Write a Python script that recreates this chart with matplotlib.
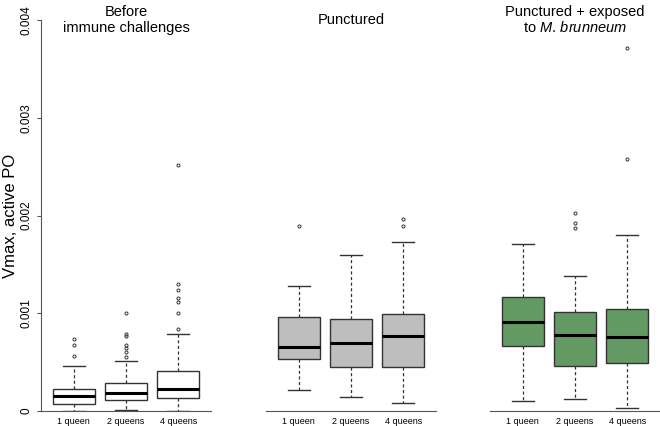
import matplotlib
matplotlib.use("Agg")
import matplotlib.pyplot as plt

plt.rcParams['font.family'] = ['Liberation Sans', 'DejaVu Sans']
plt.rcParams['mathtext.fontset'] = 'custom'
plt.rcParams['mathtext.rm'] = 'Liberation Sans'
plt.rcParams['mathtext.it'] = 'Liberation Sans:italic'

# Groups and panels
groups = ['1 queen', '2 queens', '4 queens']
titles = ['Before\nimmune challenges', 'Punctured',
          'Punctured + exposed\nto $\\mathit{M.\\,brunneum}$']
fills = ['white', '#bebebe', '#639a64']

# Box statistics: (whislo, q1, median, q3, whishi)
before_stats = [(0.0, 0.00007, 0.00015, 0.000225, 0.000457),
                (0.000013, 0.00011, 0.00018, 0.000286, 0.000515),
                (0.0, 0.000133, 0.000225, 0.000406, 0.000785)]
punct_stats = [(0.000215, 0.00053, 0.000655, 0.00096, 0.00128),
               (0.00014, 0.00045, 0.0007, 0.000944, 0.0016),
               (0.000078, 0.000447, 0.000767, 0.00099, 0.00173)]
expo_stats = [(0.000105, 0.000665, 0.00091, 0.00117, 0.00171),
              (0.00012, 0.000457, 0.00078, 0.00101, 0.00138),
              (0.00003, 0.00049, 0.000757, 0.00104, 0.0018)]

# Outliers
before_out = [[0.00056, 0.00068, 0.00074],
              [0.00055, 0.0006, 0.00064, 0.00068, 0.00077, 0.00079, 0.001],
              [0.00084, 0.001, 0.00112, 0.00116, 0.00124, 0.0013, 0.00252]]
punct_out = [[0.00189], [], [0.00189, 0.00196]]
expo_out = [[], [0.00187, 0.00192, 0.00203], [0.00258, 0.00371]]

all_stats = [before_stats, punct_stats, expo_stats]
all_out = [before_out, punct_out, expo_out]

fig = plt.figure(figsize=(6.6, 4.26), dpi=100)
lefts = [41, 266, 490]

for p in range(3):
    ax = fig.add_axes([lefts[p] / 660, 15 / 426, 170 / 660, 391 / 426])
    stats = []
    for i in range(3):
        lo, q1, med, q3, hi = all_stats[p][i]
        stats.append(dict(whislo=lo, q1=q1, med=med, q3=q3, whishi=hi,
                          fliers=all_out[p][i], label=groups[i]))
    ax.bxp(stats, positions=[1, 2, 3], widths=0.8, patch_artist=True,
           boxprops=dict(facecolor=fills[p], edgecolor='#333333', linewidth=1.0),
           medianprops=dict(color='black', linewidth=2.2),
           whiskerprops=dict(color='#333333', linestyle=(0, (2.5, 2)), linewidth=0.9),
           capprops=dict(color='#333333', linewidth=1.0),
           capwidths=0.42,
           flierprops=dict(marker='o', markersize=2.2, markerfacecolor='none',
                           markeredgecolor='#333333', markeredgewidth=0.7))
    ax.set_xlim(0.37, 3.63)
    ax.set_ylim(0, 0.004)
    ax.patch.set_visible(False)
    for s in ['top', 'right']:
        ax.spines[s].set_visible(False)
    ax.spines['bottom'].set_color('#555555')
    ax.tick_params(axis='x', length=0, labelsize=6.5, pad=4)
    if p == 0:
        ax.spines['left'].set_color('#555555')
        ax.spines['left'].set_bounds(0, 0.004)
        ax.set_yticks([0, 0.001, 0.002, 0.003, 0.004])
        ax.set_yticklabels(['0', '0.001', '0.002', '0.003', '0.004'],
                           rotation=90, va='center')
        ax.tick_params(axis='y', labelsize=8.5, length=3, color='#555555', pad=3)
        ax.set_ylabel('Vmax, active PO', fontsize=12, labelpad=2)
    else:
        ax.spines['left'].set_visible(False)
        ax.set_yticks([])
    ax.text(0.5, 1.0, titles[p], transform=ax.transAxes, ha='center',
            va='center', fontsize=10.5, linespacing=1.1)

fig.savefig('out.png', dpi=100)
